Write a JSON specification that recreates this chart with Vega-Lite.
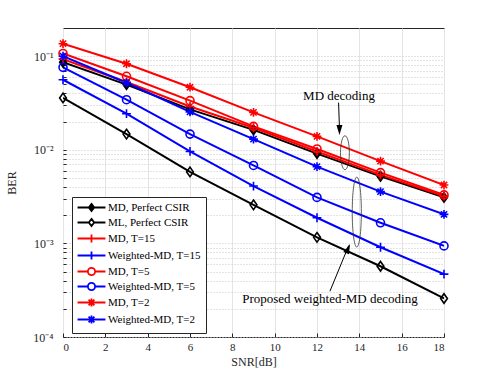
{
  "$schema": "https://vega.github.io/schema/vega-lite/v6.json",
  "autosize": "none",
  "width": 381,
  "height": 309,
  "padding": {"left": 63, "top": 28, "right": 47, "bottom": 40},
  "background": "white",
  "config": {
    "view": {"stroke": "#262626", "strokeWidth": 1},
    "font": "Liberation Serif",
    "axis": {"labelFont": "Liberation Serif", "titleFont": "Liberation Serif", "labelColor": "#262626", "titleColor": "#262626", "titleFontWeight": "normal", "domain": false, "tickColor": "#262626"},
    "legend": {"labelFont": "Liberation Serif", "labelFontSize": 11, "labelColor": "#000000"}
  },
  "datasets": {
    "ber": [
      {"snr": 0, "ber": 0.086, "series": "MD, Perfect CSIR"},
      {"snr": 3, "ber": 0.0497, "series": "MD, Perfect CSIR"},
      {"snr": 6, "ber": 0.027, "series": "MD, Perfect CSIR"},
      {"snr": 9, "ber": 0.0163, "series": "MD, Perfect CSIR"},
      {"snr": 12, "ber": 0.0091, "series": "MD, Perfect CSIR"},
      {"snr": 15, "ber": 0.0052, "series": "MD, Perfect CSIR"},
      {"snr": 18, "ber": 0.0031, "series": "MD, Perfect CSIR"},
      {"snr": 0, "ber": 0.0358, "series": "ML, Perfect CSIR"},
      {"snr": 3, "ber": 0.0147, "series": "ML, Perfect CSIR"},
      {"snr": 6, "ber": 0.0058, "series": "ML, Perfect CSIR"},
      {"snr": 9, "ber": 0.00258, "series": "ML, Perfect CSIR"},
      {"snr": 12, "ber": 0.00116, "series": "ML, Perfect CSIR"},
      {"snr": 15, "ber": 0.00057, "series": "ML, Perfect CSIR"},
      {"snr": 18, "ber": 0.000258, "series": "ML, Perfect CSIR"},
      {"snr": 0, "ber": 0.093, "series": "MD, T=15"},
      {"snr": 3, "ber": 0.053, "series": "MD, T=15"},
      {"snr": 6, "ber": 0.029, "series": "MD, T=15"},
      {"snr": 9, "ber": 0.0172, "series": "MD, T=15"},
      {"snr": 12, "ber": 0.0096, "series": "MD, T=15"},
      {"snr": 15, "ber": 0.0054, "series": "MD, T=15"},
      {"snr": 18, "ber": 0.0032, "series": "MD, T=15"},
      {"snr": 0, "ber": 0.056, "series": "Weighted-MD, T=15"},
      {"snr": 3, "ber": 0.0243, "series": "Weighted-MD, T=15"},
      {"snr": 6, "ber": 0.0096, "series": "Weighted-MD, T=15"},
      {"snr": 9, "ber": 0.0041, "series": "Weighted-MD, T=15"},
      {"snr": 12, "ber": 0.00188, "series": "Weighted-MD, T=15"},
      {"snr": 15, "ber": 0.00091, "series": "Weighted-MD, T=15"},
      {"snr": 18, "ber": 0.00047, "series": "Weighted-MD, T=15"},
      {"snr": 0, "ber": 0.107, "series": "MD, T=5"},
      {"snr": 3, "ber": 0.061, "series": "MD, T=5"},
      {"snr": 6, "ber": 0.0335, "series": "MD, T=5"},
      {"snr": 9, "ber": 0.0178, "series": "MD, T=5"},
      {"snr": 12, "ber": 0.0102, "series": "MD, T=5"},
      {"snr": 15, "ber": 0.0057, "series": "MD, T=5"},
      {"snr": 18, "ber": 0.0033, "series": "MD, T=5"},
      {"snr": 0, "ber": 0.076, "series": "Weighted-MD, T=5"},
      {"snr": 3, "ber": 0.0343, "series": "Weighted-MD, T=5"},
      {"snr": 6, "ber": 0.0147, "series": "Weighted-MD, T=5"},
      {"snr": 9, "ber": 0.0068, "series": "Weighted-MD, T=5"},
      {"snr": 12, "ber": 0.0031, "series": "Weighted-MD, T=5"},
      {"snr": 15, "ber": 0.00166, "series": "Weighted-MD, T=5"},
      {"snr": 18, "ber": 0.00094, "series": "Weighted-MD, T=5"},
      {"snr": 0, "ber": 0.136, "series": "MD, T=2"},
      {"snr": 3, "ber": 0.083, "series": "MD, T=2"},
      {"snr": 6, "ber": 0.0466, "series": "MD, T=2"},
      {"snr": 9, "ber": 0.0251, "series": "MD, T=2"},
      {"snr": 12, "ber": 0.0139, "series": "MD, T=2"},
      {"snr": 15, "ber": 0.00757, "series": "MD, T=2"},
      {"snr": 18, "ber": 0.0042, "series": "MD, T=2"},
      {"snr": 0, "ber": 0.1, "series": "Weighted-MD, T=2"},
      {"snr": 3, "ber": 0.052, "series": "Weighted-MD, T=2"},
      {"snr": 6, "ber": 0.0254, "series": "Weighted-MD, T=2"},
      {"snr": 9, "ber": 0.013, "series": "Weighted-MD, T=2"},
      {"snr": 12, "ber": 0.0066, "series": "Weighted-MD, T=2"},
      {"snr": 15, "ber": 0.00357, "series": "Weighted-MD, T=2"},
      {"snr": 18, "ber": 0.00204, "series": "Weighted-MD, T=2"}
    ]
  },
  "layer": [
    {
      "data": {"name": "ber"},
      "mark": {"type": "line", "strokeWidth": 2, "clip": true},
      "encoding": {
        "x": {"field": "snr", "type": "quantitative", "scale": {"domain": [0, 18], "nice": false, "zero": false},
          "axis": {"title": "SNR[dB]", "titleFontSize": 12, "titlePadding": 4, "values": [0, 2, 4, 6, 8, 10, 12, 14, 16, 18], "labelFontSize": 11, "tickSize": -4, "labelPadding": 8, "grid": true, "gridColor": "#e4e4e4", "gridWidth": 1}},
        "y": {"field": "ber", "type": "quantitative", "scale": {"type": "log", "domain": [0.0001, 0.2], "nice": false},
          "axis": {"title": "BER", "titleFontSize": 12, "titlePadding": 14,
            "values": [0.0001, 0.0002, 0.0003, 0.0004, 0.0005, 0.0006, 0.0007, 0.0008, 0.0009, 0.001, 0.002, 0.003, 0.004, 0.005, 0.006, 0.007, 0.008, 0.009, 0.01, 0.02, 0.03, 0.04, 0.05, 0.06, 0.07, 0.08, 0.09, 0.1],
            "labelExpr": "abs(log(datum.value)/LN10 - round(log(datum.value)/LN10)) < 0.001 ? ('10' + (round(log(datum.value)/LN10) == -1 ? '⁻¹' : round(log(datum.value)/LN10) == -2 ? '⁻²' : round(log(datum.value)/LN10) == -3 ? '⁻³' : '⁻⁴')) : ''",
            "labelFontSize": 12, "tickSize": -3, "labelPadding": 13, "grid": true, "gridColor": "#c8c8c8", "gridDash": [1, 2], "gridWidth": 1}},
        "color": {"field": "series", "type": "nominal",
          "sort": ["MD, Perfect CSIR", "ML, Perfect CSIR", "MD, T=15", "Weighted-MD, T=15", "MD, T=5", "Weighted-MD, T=5", "MD, T=2", "Weighted-MD, T=2"],
          "scale": {"domain": ["MD, Perfect CSIR", "ML, Perfect CSIR", "MD, T=15", "Weighted-MD, T=15", "MD, T=5", "Weighted-MD, T=5", "MD, T=2", "Weighted-MD, T=2"],
            "range": ["#000000", "#000000", "#ff0000", "#0000ff", "#ff0000", "#0000ff", "#ff0000", "#0000ff"]},
          "legend": {"orient": "none", "legendX": 9, "legendY": 169, "title": null, "direction": "vertical",
            "labelFont": "Liberation Serif", "labelFontSize": 11, "labelColor": "#000000", "fillColor": "white", "strokeColor": "#262626",
            "padding": 5, "rowPadding": 0, "symbolSize": 81, "symbolStrokeWidth": 1.8, "symbolOffset": 9, "labelOffset": 11,
            "encode": {"symbols": {"update": {
              "shape": {"signal": "indexof(datum.value, 'Perfect') >= 0 ? 'M-3.1,0L-0.6,0M0.6,0L3.1,0M0,-0.8L0.6,0L0,0.8L-0.6,0Z' : indexof(datum.value, 'T=15') >= 0 ? 'M-3.1,0L3.1,0M0,-0.9L0,0.9' : indexof(datum.value, 'T=5') >= 0 ? 'M-3.1,0L-0.8,0M0.8,0L3.1,0M0.8,0A0.8,0.8 0 1,1 -0.8,0A0.8,0.8 0 1,1 0.8,0Z' : 'M-3.1,0L3.1,0M0,-0.9L0,0.9M-0.65,-0.65L0.65,0.65M-0.65,0.65L0.65,-0.65'"},
              "fill": {"signal": "datum.value === 'MD, Perfect CSIR' ? '#000000' : 'transparent'"},
              "stroke": {"signal": "indexof(datum.value, 'Perfect') >= 0 ? '#000000' : indexof(datum.value, 'Weighted') >= 0 ? '#0000ff' : '#ff0000'"},
              "strokeWidth": {"value": 1.8},
              "opacity": {"value": 1}
            }}}
          }}
      }
    },
    {
      "data": {"name": "ber"},
      "transform": [{"filter": "indexof(datum.series, 'Perfect') >= 0"}],
      "mark": {"type": "point", "shape": "M0,-1.2L0.85,0L0,1.2L-0.85,0Z", "filled": false, "strokeWidth": 1.6, "size": 64, "opacity": 1},
      "encoding": {
        "x": {"field": "snr", "type": "quantitative"},
        "y": {"field": "ber", "type": "quantitative"},
        "color": {"field": "series", "type": "nominal"},
        "fill": {"condition": {"test": "datum.series === 'MD, Perfect CSIR'", "value": "#000000"}, "value": "transparent"}
      }
    },
    {
      "data": {"name": "ber"},
      "transform": [{"filter": "indexof(datum.series, 'T=15') >= 0"}],
      "mark": {"type": "point", "shape": "M-1.1,0L1.1,0M0,-1.1L0,1.1", "filled": false, "strokeWidth": 1.6, "size": 64, "opacity": 1},
      "encoding": {
        "x": {"field": "snr", "type": "quantitative"},
        "y": {"field": "ber", "type": "quantitative"},
        "color": {"field": "series", "type": "nominal"}
      }
    },
    {
      "data": {"name": "ber"},
      "transform": [{"filter": "indexof(datum.series, 'T=5') >= 0"}],
      "mark": {"type": "point", "shape": "M1,0A1,1 0 1,1 -1,0A1,1 0 1,1 1,0Z", "filled": false, "strokeWidth": 1.6, "size": 64, "opacity": 1},
      "encoding": {
        "x": {"field": "snr", "type": "quantitative"},
        "y": {"field": "ber", "type": "quantitative"},
        "color": {"field": "series", "type": "nominal"}
      }
    },
    {
      "data": {"name": "ber"},
      "transform": [{"filter": "indexof(datum.series, 'T=2') >= 0"}],
      "mark": {"type": "point", "shape": "M-1.1,0L1.1,0M0,-1.1L0,1.1M-0.78,-0.78L0.78,0.78M-0.78,0.78L0.78,-0.78", "filled": false, "strokeWidth": 1.6, "size": 64, "opacity": 1},
      "encoding": {
        "x": {"field": "snr", "type": "quantitative"},
        "y": {"field": "ber", "type": "quantitative"},
        "color": {"field": "series", "type": "nominal"}
      }
    },
    {
      "data": {"values": [{"snr": 13.02, "ber": 0.0319, "snr2": 13.06, "ber2": 0.0172}, {"snr": 12.61, "ber": 0.000308, "snr2": 13.5, "ber2": 0.00095}]},
      "mark": {"type": "rule", "color": "#000000", "strokeWidth": 1},
      "encoding": {"x": {"field": "snr", "type": "quantitative"}, "y": {"field": "ber", "type": "quantitative"}, "x2": {"field": "snr2"}, "y2": {"field": "ber2"}}
    },
    {
      "data": {"values": [{"snr": 13.06, "ber": 0.0163}]},
      "mark": {"type": "point", "shape": "M0,1L-0.6,-1L0.6,-1Z", "size": 100, "filled": true, "color": "#000000", "opacity": 1},
      "encoding": {"x": {"field": "snr", "type": "quantitative"}, "y": {"field": "ber", "type": "quantitative"}}
    },
    {
      "data": {"values": [{"snr": 13.47, "ber": 0.00088}]},
      "mark": {"type": "point", "shape": "M0,-1L-0.6,1L0.6,1Z", "size": 100, "filled": true, "color": "#000000", "opacity": 1, "angle": 23},
      "encoding": {"x": {"field": "snr", "type": "quantitative"}, "y": {"field": "ber", "type": "quantitative"}}
    },
    {
      "data": {"values": [{"snr": 13.32, "ber": 0.0093}]},
      "mark": {"type": "point", "shape": "M0,-1A0.26,1 0 1,1 0,1A0.26,1 0 1,1 0,-1Z", "size": 1156, "filled": false, "color": "#333333", "strokeWidth": 0.8, "opacity": 1},
      "encoding": {"x": {"field": "snr", "type": "quantitative"}, "y": {"field": "ber", "type": "quantitative"}}
    },
    {
      "data": {"values": [{"snr": 13.88, "ber": 0.00216}]},
      "mark": {"type": "point", "shape": "M0,-1A0.13,1 0 1,1 0,1A0.13,1 0 1,1 0,-1Z", "size": 4900, "filled": false, "color": "#333333", "strokeWidth": 0.8, "opacity": 1},
      "encoding": {"x": {"field": "snr", "type": "quantitative"}, "y": {"field": "ber", "type": "quantitative"}}
    },
    {
      "data": {"values": [{"snr": 13.04, "ber": 0.0379, "label": "MD decoding"}, {"snr": 12.61, "ber": 0.000253, "label": "Proposed weighted-MD decoding"}]},
      "mark": {"type": "text", "font": "Liberation Serif", "fontSize": 13, "color": "#000000", "align": "center", "baseline": "middle"},
      "encoding": {"x": {"field": "snr", "type": "quantitative"}, "y": {"field": "ber", "type": "quantitative"}, "text": {"field": "label"}}
    }
  ]
}
